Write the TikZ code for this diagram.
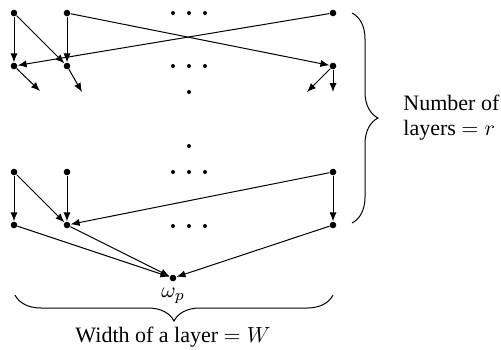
\documentclass[tikz,border=0pt]{standalone}
\usepackage{fontspec}
\setmainfont{Liberation Serif}
\usetikzlibrary{arrows.meta,decorations.pathreplacing}
\begin{document}
\begin{tikzpicture}[x=0.5pt,y=-0.5pt,
  vtx/.style={circle,fill=black,inner sep=0pt,minimum size=3.3pt},
  smalldot/.style={circle,fill=black,inner sep=0pt,minimum size=2pt},
  edge/.style={-{Latex[length=4.5pt,width=3.6pt]},line width=0.5pt},
  bracestyle/.style={decorate,decoration={brace,amplitude=13pt},line width=0.5pt},
  font=\fontsize{11}{12.5}\selectfont]
\useasboundingbox (0,0) rectangle (501,349);
% layer 1
\node[vtx] (a1) at (14,13) {};
\node[vtx] (a2) at (67,13) {};
\node[vtx] (a3) at (333,13) {};
% layer 2
\node[vtx] (b1) at (14,66) {};
\node[vtx] (b2) at (67,66) {};
\node[vtx] (b3) at (333,66) {};
% layer r-1
\node[vtx] (c1) at (14,172) {};
\node[vtx] (c2) at (67,172) {};
\node[vtx] (c3) at (333,172) {};
% layer r
\node[vtx] (d1) at (14,225) {};
\node[vtx] (d2) at (67,225) {};
\node[vtx] (d3) at (333,225) {};
% sink
\node[vtx] (w) at (173,278) {};
\node (wl) at (173,296) {$\omega_p$};
% dots
\foreach \x/\n in {173/1,189/2,205/3} {
  \node[smalldot] (ta\n) at (\x,13) {};
  \node[smalldot] (tb\n) at (\x,66) {};
  \node[smalldot] (tc\n) at (\x,172) {};
  \node[smalldot] (td\n) at (\x,226) {};
}
\node[smalldot] (v1) at (189,92) {};
\node[smalldot] (v2) at (189,146) {};
% free ends
\coordinate (e1) at (40,91);
\coordinate (e2) at (82,92);
\coordinate (e3) at (307,92);
\coordinate (e4) at (333,92);
% edges top
\draw[edge] (a1) -- (b1);
\draw[edge] (a1) -- (b2);
\draw[edge] (a2) -- (b2);
\draw[edge] (a2) -- (b3);
\draw[edge] (a3) -- (b1);
\draw[edge] (b1) -- (e1);
\draw[edge] (b2) -- (e2);
\draw[edge] (b3) -- (e3);
\draw[edge] (b3) -- (e4);
% edges bottom
\draw[edge] (c1) -- (d1);
\draw[edge] (c1) -- (d2);
\draw[edge] (c2) -- (d2);
\draw[edge] (c3) -- (d2);
\draw[edge] (c3) -- (d3);
\draw[edge] (d1) -- (w);
\draw[edge] (d2) -- (w);
\draw[edge] (d3) -- (w);
% braces
\coordinate (rb1) at (352,13);
\coordinate (rb2) at (352,223);
\draw[bracestyle] (rb1) -- (rb2);
\node[anchor=west,align=left,inner sep=1.5pt] (rl) at (400,118) {Number of\\layers $= r$};
\coordinate (bb1) at (333,295);
\coordinate (bb2) at (15,295);
\draw[bracestyle] (bb1) -- (bb2);
\node (bl) at (173,337) {Width of a layer $= W$};
\end{tikzpicture}
\end{document}
